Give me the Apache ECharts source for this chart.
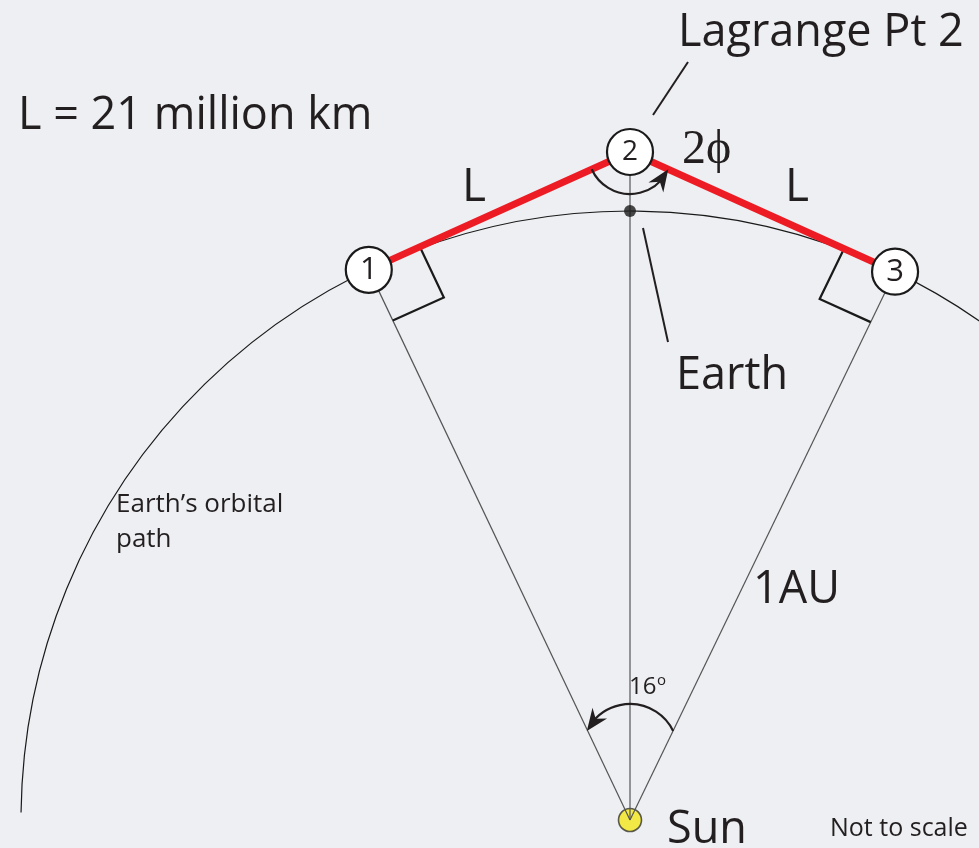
<!DOCTYPE html>
<html>
<head>
<meta charset="utf-8">
<title>Lagrange Point 2</title>
<script src="https://cdn.jsdelivr.net/npm/echarts@6/dist/echarts.min.js"></script>
<style>
html, body { margin: 0; padding: 0; background: #eeeff2; }
#chart { width: 979px; height: 848px; }
</style>
</head>
<body>
<div id="chart"></div>
<script>
// diagram units: Sun at the origin, y up, one unit is one pixel
const pointLabels = ['1', '2', '3'];
const pointAngles = [-25.4, 0, 25.8];    // degrees from the Sun-Earth line
const pointDistances = [609, 668, 609];  // distance from the Sun
const pointFontSizes = [31, 28, 31];
const orbitRadius = 609;
const orbitSpan = [-89.3, 50];           // drawn part of the orbit, degrees
const earthAngle = 0;
const angleArcCentre = [0, 68];          // the 16 degree marker

const rad = d => d * Math.PI / 180;
const toXY = (angle, dist) => [dist * Math.sin(rad(angle)), dist * Math.cos(rad(angle))];
const points = pointAngles.map((a, i) => toXY(a, pointDistances[i]));
const earth = toXY(earthAngle, orbitRadius);
const sun = [0, 0];

const ink = '#231f20';
const font = '"Open Sans", "Noto Sans", sans-serif';

// arc with an arrow head, angles in radians, drawn clockwise on screen
function arrowArc(cx, cy, r, a0, a1, tipAtStart) {
    const tipA = tipAtStart ? a0 : a1;
    const backA = tipAtStart ? a0 + 0.35 : a1 - 0.35;
    const tip = [cx + r * Math.cos(tipA), cy + r * Math.sin(tipA)];
    const back = [cx + r * Math.cos(backA), cy + r * Math.sin(backA)];
    let dx = tip[0] - back[0], dy = tip[1] - back[1];
    const len = Math.hypot(dx, dy);
    dx /= len; dy /= len;
    const nx = -dy, ny = dx;
    const L = 22, W = 9, N = 15;
    const head = [
        tip,
        [tip[0] - dx * L + nx * W, tip[1] - dy * L + ny * W],
        [tip[0] - dx * N, tip[1] - dy * N],
        [tip[0] - dx * L - nx * W, tip[1] - dy * L - ny * W]
    ];
    return {
        type: 'group',
        children: [
            {type: 'arc', shape: {cx, cy, r, startAngle: a0 + (tipAtStart ? 0.12 : 0), endAngle: a1 - (tipAtStart ? 0 : 0.12), clockwise: true},
                style: {stroke: ink, lineWidth: 2.2, fill: 'none'}},
            {type: 'polygon', shape: {points: head}, style: {fill: ink}}
        ]
    };
}

const chart = echarts.init(document.getElementById('chart'));

const text = (t, x, y, size, extra) => ({
    type: 'text', x, y, z: 10,
    style: Object.assign({text: t, fontSize: size, fontFamily: font, fill: ink, verticalAlign: 'middle'}, extra || {})
});

const option = {
    backgroundColor: '#eeeff2',
    animation: false,
    grid: {left: 0, right: 0, top: 0, bottom: 0},
    xAxis: {type: 'value', min: -630, max: 349, show: false},
    yAxis: {type: 'value', min: -28, max: 820, show: false},
    series: [
        {   // Earth's orbit
            type: 'custom', z: 1, data: [sun],
            renderItem: (params, api) => {
                const c = api.coord([api.value(0), api.value(1)]);
                const r = api.size([orbitRadius, 0])[0];
                return {
                    type: 'arc',
                    shape: {cx: c[0], cy: c[1], r, startAngle: rad(orbitSpan[0] - 90), endAngle: rad(orbitSpan[1] - 90), clockwise: true},
                    style: {stroke: '#1a1a1a', lineWidth: 1.2, fill: 'none'}
                };
            }
        },
        {   // the Sun
            type: 'scatter', z: 2, data: [sun], symbolSize: 23,
            itemStyle: {color: '#f3e71a', borderColor: '#333', borderWidth: 1.6}
        },
        {   // lines from the Sun
            type: 'custom', z: 3, data: points,
            renderItem: (params, api) => {
                const s = api.coord(sun);
                const p = api.coord([api.value(0), api.value(1)]);
                return {
                    type: 'line',
                    shape: {x1: s[0], y1: s[1], x2: p[0], y2: p[1]},
                    style: {stroke: '#555', lineWidth: 1.2}
                };
            }
        },
        {   // right angle markers
            type: 'custom', z: 4, data: [points[0], points[2]],
            renderItem: (params, api) => {
                const p = api.coord([api.value(0), api.value(1)]);
                const q = api.coord(points[1]);
                const s = api.coord(sun);
                const unit = (a, b) => {
                    const l = Math.hypot(b[0] - a[0], b[1] - a[1]);
                    return [(b[0] - a[0]) / l, (b[1] - a[1]) / l];
                };
                const u = unit(p, q), v = unit(p, s), k = 56;
                return {
                    type: 'polyline',
                    shape: {points: [
                        [p[0] + u[0] * k, p[1] + u[1] * k],
                        [p[0] + (u[0] + v[0]) * k, p[1] + (u[1] + v[1]) * k],
                        [p[0] + v[0] * k, p[1] + v[1] * k]
                    ]},
                    style: {stroke: '#1a1a1a', lineWidth: 2.2, fill: 'none'}
                };
            }
        },
        {   // baseline L
            type: 'line', z: 5, data: points, symbol: 'none',
            lineStyle: {color: '#ed1c24', width: 7}
        },
        {   // 2 phi marker around point 2
            type: 'custom', z: 6, data: [points[1]],
            renderItem: (params, api) => {
                const c = api.coord([api.value(0), api.value(1)]);
                const p1 = api.coord(points[0]);
                const p3 = api.coord(points[2]);
                const a0 = Math.atan2(p3[1] - c[1], p3[0] - c[0]);
                const a1 = Math.atan2(p1[1] - c[1], p1[0] - c[0]);
                return arrowArc(c[0], c[1], 42, a0, a1, true);
            }
        },
        {   // 16 degree marker at the Sun
            type: 'custom', z: 6, data: [angleArcCentre],
            renderItem: (params, api) => {
                const c = api.coord([api.value(0), api.value(1)]);
                return arrowArc(c[0], c[1], 48, rad(-154), rad(-26), true);
            }
        },
        {   // Earth
            type: 'scatter', z: 7, data: [earth], symbolSize: 12,
            itemStyle: {color: '#1a1a1a'}
        },
        {   // numbered points
            type: 'scatter', z: 8, symbolSize: 46,
            data: points.map((p, i) => ({value: p, label: {fontSize: pointFontSizes[i]}})),
            itemStyle: {color: '#fff', borderColor: '#1a1a1a', borderWidth: 2.2, opacity: 1},
            label: {
                show: true, position: 'inside', color: ink, fontFamily: font,
                formatter: p => pointLabels[p.dataIndex]
            }
        }
    ],
    graphic: [
        text('L = 21 million km', 18, 116, 45),
        text('Lagrange Pt 2', 678, 33, 45),
        {type: 'line', z: 10, shape: {x1: 688, y1: 62, x2: 653, y2: 115}, style: {stroke: ink, lineWidth: 2}},
        text('L', 462, 188, 46),
        text('L', 785, 188, 46),
        text('2\u03d5', 682, 150, 48, {fontFamily: '"Liberation Serif", "DejaVu Serif", serif'}),
        {type: 'line', z: 10, shape: {x1: 643, y1: 228, x2: 668, y2: 342}, style: {stroke: ink, lineWidth: 2}},
        text('Earth', 676, 376, 45),
        text('Earth\u2019s orbital', 116, 505, 26),
        text('path', 116, 540, 26),
        text('1AU', 753, 590, 45),
        text('16', 629, 687, 24),
        text('o', 657, 681, 15),
        text('Sun', 667, 830, 45),
        text('Not to scale', 830, 829, 25)
    ]
};

chart.setOption(option);
</script>
</body>
</html>
